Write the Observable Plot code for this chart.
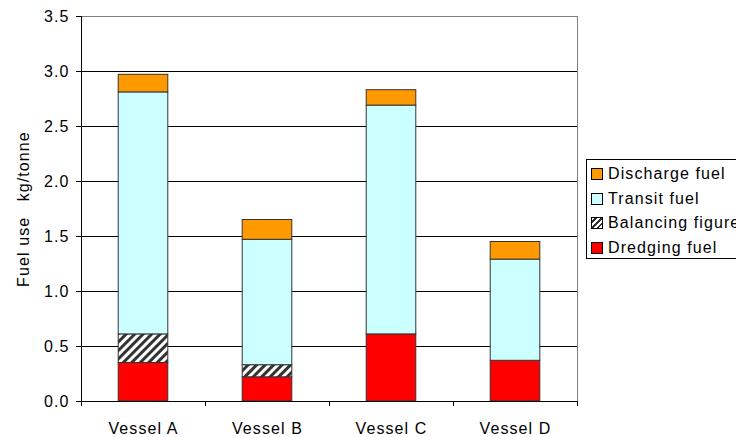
<!DOCTYPE html>
<html>
<head>
<meta charset="utf-8">
<script src="https://cdn.jsdelivr.net/npm/d3@7"></script>
<script src="https://cdn.jsdelivr.net/npm/@observablehq/plot@0.6"></script>
<style>
  body { margin: 0; background: #fff; overflow: hidden; }
  #wrap { position: relative; width: 736px; height: 437px; overflow: hidden;
          font-family: "Liberation Sans", Arial, sans-serif; }
  #legend { position: absolute; left: 586px; top: 159px; width: 175px; height: 98px;
            border: 1px solid #000; background: #fff; font-size: 16px; letter-spacing: 1.1px;
            color: #000; }
  .item { position: absolute; left: 4px; height: 24px; display: flex; align-items: center; white-space: nowrap; }
  .sw { width: 10px; height: 10px; border: 1px solid #000; margin-right: 5px; flex: none; }
</style>
</head>
<body>
<div id="wrap"></div>
<script>
// Fuel use per vessel, kg/tonne, stacked bottom to top
const vessels   = ["Vessel A", "Vessel B", "Vessel C", "Vessel D"];
const dredging  = [0.35, 0.22, 0.61, 0.37];
const balancing = [0.26, 0.11, 0.00, 0.00];
const transit   = [2.20, 1.14, 2.08, 0.92];
const discharge = [0.16, 0.18, 0.14, 0.16];

const seriesNames  = ["Dredging fuel", "Balancing figure", "Transit fuel", "Discharge fuel"];
const seriesValues = [dredging, balancing, transit, discharge];
const seriesFills  = ["#ff0000", "url(#hatch)", "#ccffff", "#ff9900"];
const seriesSwatch = ["#ff0000", "repeating-linear-gradient(135deg,#fff 0 2px,#333 2px 4px)", "#ccffff", "#ff9900"];

const yTicks = [0, 0.5, 1.0, 1.5, 2.0, 2.5, 3.0, 3.5];
const yLabel = "Fuel use\u00a0\u2009\u00a0kg/tonne";

// Stack the series into rectangles
const running = vessels.map(() => 0);
const layers = seriesValues.map((vals, s) => vals.map((v, i) => {
  const seg = {i, y1: running[i], y2: running[i] + v};
  running[i] += v;
  return seg;
}).filter(d => d.y2 > d.y1));

const boundaries = d3.range(vessels.length + 1);
const centers = vessels.map((_, i) => i + 0.5);

// Diagonal hatch used by the balancing figure
const hatchDefs = () => {
  const defs = d3.create("svg:defs");
  const p = defs.append("pattern")
    .attr("id", "hatch").attr("patternUnits", "userSpaceOnUse")
    .attr("width", 6).attr("height", 6).attr("patternTransform", "rotate(45)");
  p.append("rect").attr("width", 6).attr("height", 6).attr("fill", "#fff");
  p.append("rect").attr("width", 3).attr("height", 6).attr("fill", "#333");
  return defs.node();
};

const chart = Plot.plot({
  width: 736,
  height: 437,
  marginLeft: 81,
  marginRight: 159,
  marginTop: 16,
  marginBottom: 36,
  style: {fontFamily: "'Liberation Sans', Arial, sans-serif", fontSize: "16px",
          letterSpacing: "1.1px", color: "#000", background: "transparent"},
  x: {domain: [0, vessels.length], axis: null},
  y: {domain: [0, 3.5], axis: null},
  marks: [
    hatchDefs,
    Plot.gridY(yTicks.filter(v => v > 0 && v < 3.5), {stroke: "#000", strokeOpacity: 1}),
    Plot.ruleY([3.5], {stroke: "#808080"}),
    Plot.ruleX([vessels.length], {stroke: "#808080"}),
    ...layers.map((data, s) => Plot.rect(data, {
      x1: d => d.i + 0.3, x2: d => d.i + 0.7, y1: "y1", y2: "y2",
      fill: seriesFills[s], stroke: "#333", strokeWidth: 1
    })),
    Plot.axisY(yTicks, {tickSize: 5, tickPadding: 7, tickFormat: d3.format(".1f"), label: null}),
    Plot.ruleX([0], {stroke: "#000"}),
    Plot.ruleY([0], {stroke: "#000"}),
    Plot.axisX(boundaries, {tickSize: 5, tickFormat: () => "", label: null}),
    Plot.axisX(centers, {tickSize: 0, tickPadding: 21, tickFormat: c => vessels[Math.floor(c)], label: null}),
    Plot.text([yLabel], {text: d => d, frameAnchor: "left", textAnchor: "middle", dx: -58, rotate: -90})
  ]
});

const wrap = document.getElementById("wrap");
wrap.appendChild(chart);

// Legend, top series first
const legend = document.createElement("div");
legend.id = "legend";
const order = [3, 2, 1, 0];
order.forEach((s, k) => {
  const item = document.createElement("div");
  item.className = "item";
  item.style.top = (2 + k * 24.5) + "px";
  const sw = document.createElement("span");
  sw.className = "sw";
  sw.style.background = seriesSwatch[s];
  const label = document.createElement("span");
  label.textContent = seriesNames[s];
  item.appendChild(sw);
  item.appendChild(label);
  legend.appendChild(item);
});
wrap.appendChild(legend);
</script>
</body>
</html>
